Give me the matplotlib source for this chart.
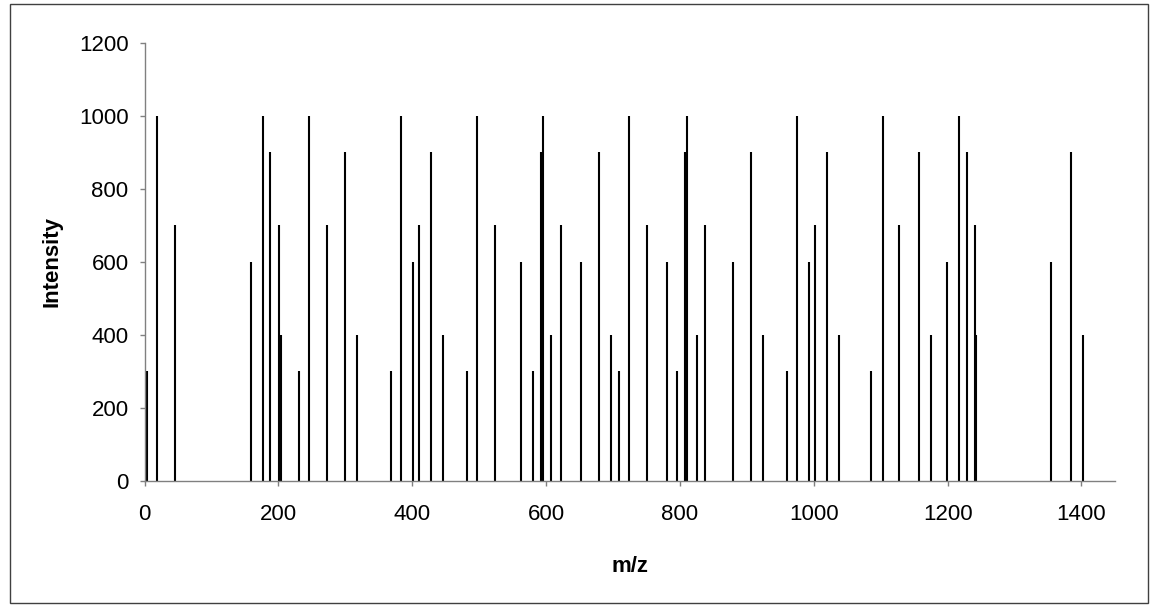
#importing libraries
import matplotlib
matplotlib.use('Agg')
import matplotlib.pyplot as plt
from matplotlib.patches import Rectangle

plt.rcParams['font.family'] = ['Liberation Sans', 'DejaVu Sans']

#peak positions and intensities
mz = [3, 18, 45, 159, 177, 188, 201, 203, 231, 246, 272, 299, 317, 368, 383,
      401, 410, 428, 446, 481, 496, 523, 562, 580, 592, 595, 607, 622, 652,
      679, 697, 709, 724, 750, 780, 795, 807, 810, 825, 837, 879, 906, 924,
      960, 975, 993, 1002, 1020, 1038, 1085, 1103, 1127, 1157, 1175, 1199,
      1217, 1229, 1241, 1243, 1354, 1384, 1402]
intensity = [300, 1000, 700, 600, 1000, 900, 700, 400, 300, 1000, 700, 900, 400,
             300, 1000, 600, 700, 900, 400, 300, 1000, 700, 600, 300, 900, 1000,
             400, 700, 600, 900, 400, 300, 1000, 700, 600, 300, 900, 1000, 400,
             700, 600, 900, 400, 300, 1000, 600, 700, 900, 400, 300, 1000, 700,
             900, 400, 600, 1000, 900, 700, 400, 600, 900, 400]
x_ticks = [0, 200, 400, 600, 800, 1000, 1200, 1400]
y_ticks = [0, 200, 400, 600, 800, 1000, 1200]

fig = plt.figure(figsize=(11.5, 6.07), dpi=100)
ax = fig.add_axes([0.1258, 0.2076, 0.8437, 0.7216])

#draw the spectrum as sticks
ax.vlines(mz, 0, intensity, colors='black', linewidth=1.5)

ax.set_xlim(0, 1450)
ax.set_ylim(0, 1200)
ax.set_xticks(x_ticks)
ax.set_yticks(y_ticks)
ax.tick_params(labelsize=16, length=3.6, color='#808080', width=1)
ax.tick_params(axis='x', pad=13)
ax.tick_params(axis='y', pad=8)

for side in ['top', 'right']:
    ax.spines[side].set_visible(False)
for side in ['left', 'bottom']:
    ax.spines[side].set_color('#808080')
    ax.spines[side].set_linewidth(1)

#Adding labels
ax.set_xlabel('m/z', fontsize=16, fontweight='bold', va='center')
ax.xaxis.set_label_coords(0.5, -0.196)
ax.set_ylabel('Intensity', fontsize=16, fontweight='bold', va='center')
ax.yaxis.set_label_coords(-0.0958, 0.5)

#outer frame around the chart
fig.patches.append(Rectangle((10 / 1150, 4 / 607), 1138 / 1150, 599 / 607,
                             transform=fig.transFigure, fill=False,
                             edgecolor='#404040', linewidth=1))

fig.savefig('out.png', dpi=100)
